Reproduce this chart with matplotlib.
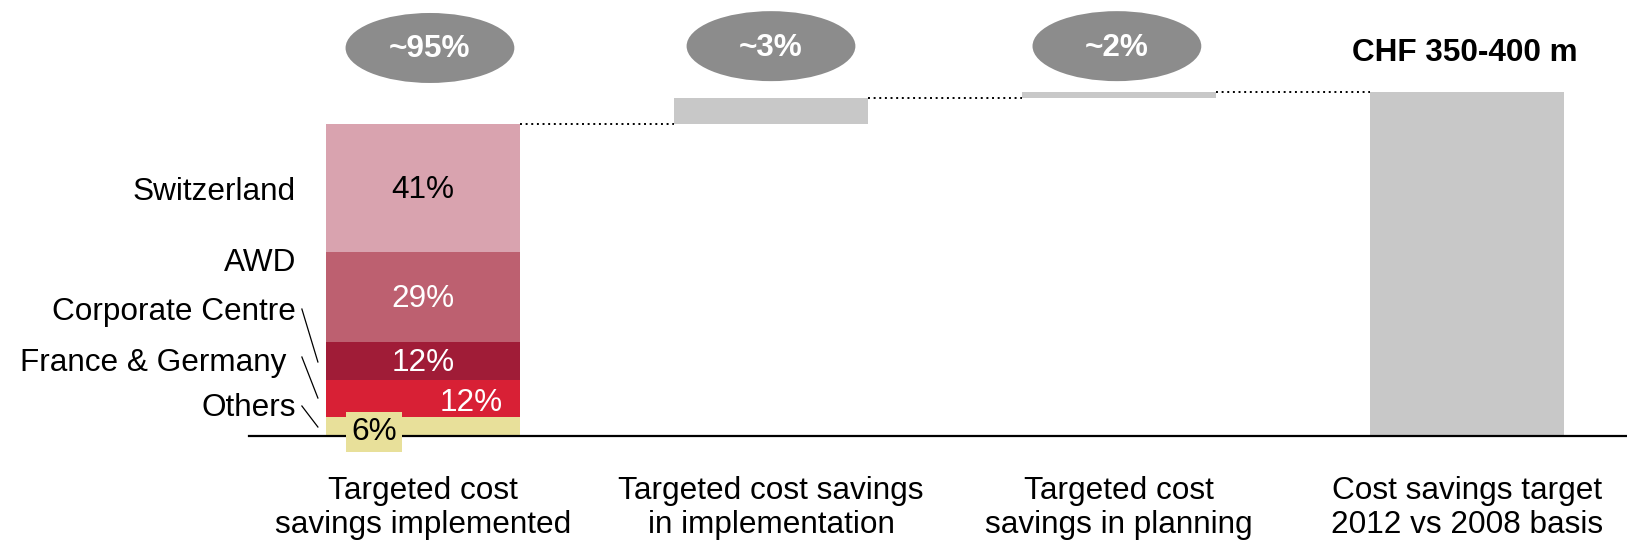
import matplotlib.pyplot as plt
from matplotlib.patches import Ellipse

plt.rcParams['font.family'] = ['Liberation Sans', 'DejaVu Sans']

# waterfall steps, CHF m
steps = ['Targeted cost\nsavings implemented',
         'Targeted cost savings\nin implementation',
         'Targeted cost\nsavings in planning',
         'Cost savings target\n2012 vs 2008 basis']
step_values = [340, 28, 7]
step_badges = ['~95%', '~3%', '~2%']
total_label = 'CHF 350-400 m'

# split of the implemented savings, bottom to top (% of that bar)
regions = ['Others', 'France & Germany', 'Corporate Centre', 'AWD', 'Switzerland']
region_share = [6, 12, 12, 29, 41]
region_colors = ['#e8e09a', '#d82035', '#a01c37', '#bd6070', '#d9a3af']

grey = '#c8c8c8'
badge = '#8c8c8c'
fs = 22.7
w = 0.5575

fig = plt.figure(figsize=(16.27, 5.43), dpi=100)
ax = fig.add_axes([0, 0, 1, 1])
ax.set_xlim(-1.2155, 3.4598)
ax.set_ylim(-116.64, 475.3)
ax.axis('off')

total = sum(step_values)

# stacked first bar
bottom = 0
seg_mid = []
for share, col in zip(region_share, region_colors):
    h = step_values[0] * share / 100
    ax.bar(0, h, w, bottom=bottom, color=col, linewidth=0)
    seg_mid.append(bottom + h / 2)
    bottom += h

# floating steps and the total
base = step_values[0]
levels = [step_values[0]]
for i, v in enumerate(step_values[1:], start=1):
    ax.bar(i, v, w, bottom=base, color=grey, linewidth=0)
    base += v
    levels.append(base)
ax.bar(3, total, w, color=grey, linewidth=0)

# dotted connectors between bars
for i, lv in enumerate(levels):
    ax.plot([i + w / 2, i + 1 - w / 2], [lv, lv], color='black', lw=1.4,
            linestyle=(0, (1, 1.9)))

ax.plot([-0.50, 3.4598], [0, 0], color='black', lw=1.6, zorder=3)

# percentage badges above the steps
badge_x = [0.02, 1.0, 1.994]
badge_y = [423, 425, 425]
for bx, by, txt in zip(badge_x, badge_y, step_badges):
    ax.add_patch(Ellipse((bx, by), 0.485, 76.3, color=badge, linewidth=0))
    ax.text(bx, by - 1.5, txt, ha='center', va='center', color='white',
            fontsize=fs, fontweight='bold')
ax.text(2.993, 417.5, total_label, ha='center', va='center', color='black',
        fontsize=fs, fontweight='bold')

# category labels under the axis
for i, s in enumerate(steps):
    ax.text(i, -78.5, s, ha='center', va='center', fontsize=fs,
            linespacing=1.2)

# values inside the stacked bar
ax.text(0, seg_mid[4] - 2, f'{region_share[4]}%', ha='center', va='center',
        fontsize=fs, color='black')
ax.text(0, seg_mid[3] - 2, f'{region_share[3]}%', ha='center', va='center',
        fontsize=fs, color='white')
ax.text(0, seg_mid[2] - 2, f'{region_share[2]}%', ha='center', va='center',
        fontsize=fs, color='white')
ax.text(0.138, seg_mid[1] - 5, f'{region_share[1]}%', ha='center',
        va='center', fontsize=fs, color='white')
ax.text(-0.141, 4.5, f'{region_share[0]}%', ha='center', va='center',
        fontsize=fs, color='black', zorder=5,
        bbox=dict(boxstyle='square,pad=0.16', fc=region_colors[0], ec='none'))

# region names to the left, with leader lines for the thin segments
name_pos = [(-0.365, 30.0), (-0.394, 79.5), (-0.365, 135.0),
            (-0.365, 188.5), (-0.365, 266.5)]
for name, (nx, ny) in zip(regions, name_pos):
    ax.text(nx, ny, name, ha='right', va='center', fontsize=fs)

leaders = [((-0.348, 32.7), (-0.302, 9.8)),
           ((-0.348, 86.1), (-0.302, 41.4)),
           ((-0.348, 138.4), (-0.302, 80.7))]
for (x0, y0), (x1, y1) in leaders:
    ax.plot([x0, x1], [y0, y1], color='black', lw=0.9)

fig.savefig('out.png', dpi=100)
